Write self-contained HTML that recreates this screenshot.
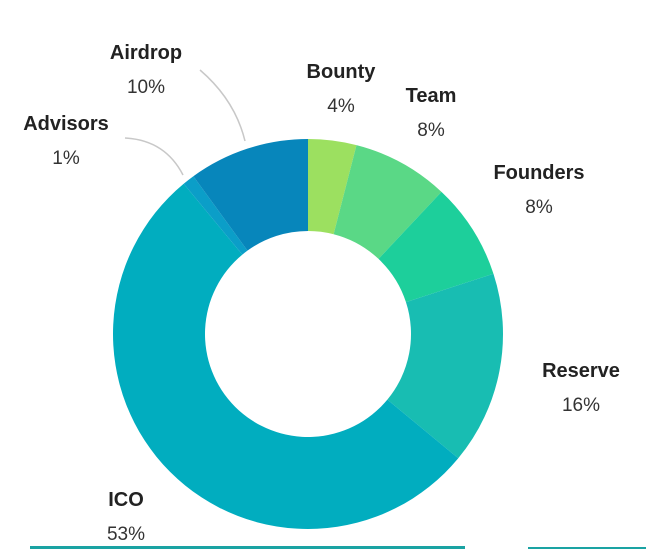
<!DOCTYPE html>
<html><head><meta charset="utf-8"><style>
html,body{margin:0;padding:0;background:#fff;width:646px;height:549px;overflow:hidden}
svg{display:block}
.lab{font-family:"Liberation Sans",sans-serif;font-weight:bold;font-size:20px;fill:#222}
.pct{font-family:"Liberation Sans",sans-serif;font-size:19px;fill:#333}
</style></head><body>
<svg id="chart" width="646" height="549">
<g id="slices"></g>
<path d="M200,70 Q235,100 245,141" fill="none" stroke="#c8c8c8" stroke-width="1.5"/>
<path d="M125,138 Q165,140 183,175" fill="none" stroke="#c8c8c8" stroke-width="1.5"/>
<g id="labels"></g>
<rect x="30" y="546" width="435" height="3" fill="#1aa3a3"/>
<rect x="528" y="547" width="118" height="2" fill="#1aa3a3"/>
</svg>
<script>
const categories=["Bounty","Team","Founders","Reserve","ICO","Advisors","Airdrop"];
const values=[4,8,8,16,53,1,10];
const colors=["#9ce060","#5ad886","#1dcf9b","#18bdb2","#01adbf","#0b9ec8","#0786bb"];
const labelPos=[[341,78],[431,102],[539,179],[581,377],[126,506],[66,130],[146,59]];
const cx=308,cy=334,R=195,r=103;
const NS="http://www.w3.org/2000/svg";
const total=values.reduce((a,b)=>a+b,0);
function pt(a,rad){return [cx+rad*Math.sin(a),cy-rad*Math.cos(a)];}
let acc=0;
const g=document.getElementById('slices');
values.forEach((v,i)=>{
  const a0=acc/total*2*Math.PI;acc+=v;const a1=acc/total*2*Math.PI;
  const lg=(a1-a0)>Math.PI?1:0;
  const [x0,y0]=pt(a0,R),[x1,y1]=pt(a1,R),[x2,y2]=pt(a1,r),[x3,y3]=pt(a0,r);
  const p=document.createElementNS(NS,'path');
  p.setAttribute('d',`M${x0},${y0}A${R},${R} 0 ${lg} 1 ${x1},${y1}L${x2},${y2}A${r},${r} 0 ${lg} 0 ${x3},${y3}Z`);
  p.setAttribute('fill',colors[i]);
  
  
  g.appendChild(p);
});
const lg2=document.getElementById('labels');


categories.forEach((c,i)=>{
  const [x,y]=labelPos[i];
  const t=document.createElementNS(NS,'text');
  t.setAttribute('x',x);t.setAttribute('y',y);t.setAttribute('text-anchor','middle');t.setAttribute('class','lab');
  t.textContent=c;
  
  
  lg2.appendChild(t);
  const q=document.createElementNS(NS,'text');
  q.setAttribute('x',x);q.setAttribute('y',y+34);q.setAttribute('text-anchor','middle');q.setAttribute('class','pct');
  q.textContent=values[i]+'%';
  
  
  lg2.appendChild(q);
});
</script>
</body></html>
